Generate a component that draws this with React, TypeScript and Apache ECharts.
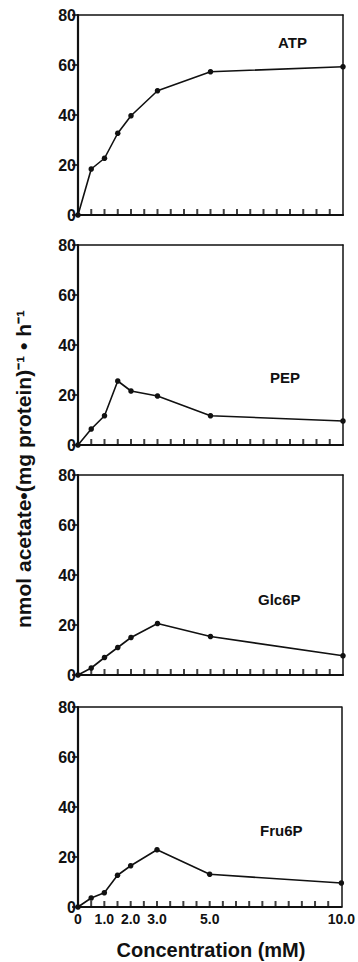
import React, { useEffect, useRef } from "react";
import * as echarts from "echarts";

const concentrations = [0, 0.5, 1, 1.5, 2, 3, 5, 10];
const atp = [0, 18.4, 22.7, 32.7, 39.7, 49.7, 57.3, 59.3];
const pep = [0, 6.4, 11.7, 25.6, 21.6, 19.6, 11.7, 9.6];
const glc6p = [0, 2.8, 7.0, 11.0, 15.0, 20.6, 15.4, 7.7];
const fru6p = [0, 3.6, 5.7, 12.7, 16.5, 22.9, 13.1, 9.6];
const panelNames = ["ATP", "PEP", "Glc6P", "Fru6P"];
const panelSeries = [atp, pep, glc6p, fru6p];
const xMinorTicks = [0.5, 1, 1.5, 2, 2.5, 3, 3.5, 4, 4.5, 5, 5.5, 6, 6.5, 7, 7.5, 8, 8.5, 9, 9.5];
const xTickLabels: Record<string, string> = { "0": "0", "1": "1.0", "2": "2.0", "3": "3.0", "5": "5.0", "10": "10.0" };
const yTitle = "nmol acetate\u2022(mg protein)\u207B\u00B9 \u2022 h\u207B\u00B9";
const xTitle = "Concentration (mM)";

const FONT = "'Liberation Sans', Arial, Helvetica, sans-serif";

export default function App() {
  const ref = useRef<HTMLDivElement>(null);
  useEffect(() => {
    if (!ref.current) return;
    const chart = echarts.init(ref.current, null, { renderer: "svg" });
    const tops = [15, 245, 475, 707];
    const H = 200;
    const labelPos = [
      { x: 278, y: 42 },
      { x: 270, y: 377 },
      { x: 258, y: 599 },
      { x: 260, y: 830 },
    ];
    const grids = tops.map((t) => ({
      left: 78,
      width: 265,
      top: t,
      height: H,
      show: false,
    }));
    const xAxes = tops.map((_, i) => ({
      type: "value",
      gridIndex: i,
      position: "bottom",
      min: 0,
      max: 10,
      interval: 0.5,
      splitLine: { show: false },
      axisLine: { show: true, onZero: false, lineStyle: { color: "#111", width: 2.2 } },
      axisTick: { show: false },
      axisLabel: {
        show: i === 3,
        margin: 5,
        color: "#111",
        fontFamily: FONT,
        fontWeight: "bold",
        fontSize: 14,
        formatter: (v: number) => xTickLabels[String(v)] ?? "",
      },
    }));
    const topAxes = tops.map((_, i) => ({
      type: "value",
      gridIndex: i,
      position: "top",
      min: 0,
      max: 10,
      axisLine: { show: true, onZero: false, lineStyle: { color: "#111", width: 1.5 } },
      axisTick: { show: false },
      axisLabel: { show: false },
      splitLine: { show: false },
    }));
    const yAxes = tops.map((_, i) => ({
      type: "value",
      gridIndex: i,
      min: 0,
      max: 80,
      interval: 20,
      splitLine: { show: false },
      axisLine: { show: true, onZero: false, lineStyle: { color: "#111", width: 2.2 } },
      axisTick: { show: true, inside: false, length: 6, lineStyle: { color: "#111", width: 1.6 } },
      axisLabel: {
        margin: 2,
        color: "#111",
        fontFamily: FONT,
        fontWeight: "bold",
        fontSize: 16,
      },
    }));
    const rightAxes = tops.map((_, i) => ({
      type: "value",
      gridIndex: i,
      position: "right",
      min: 0,
      max: 80,
      axisLine: { show: true, onZero: false, lineStyle: { color: "#111", width: 1.5 } },
      axisTick: { show: false },
      axisLabel: { show: false },
      splitLine: { show: false },
    }));
    const series: any[] = panelSeries.map((vals, i) => ({
      type: "line",
      xAxisIndex: i,
      yAxisIndex: i,
      data: concentrations.map((c, j) => [c, vals[j]]),
      symbol: "circle",
      symbolSize: 5.5,
      itemStyle: { color: "#111" },
      lineStyle: { color: "#111", width: 1.6 },
      z: 3,
    }));
    tops.forEach((_, i) => {
      series.push({
        type: "scatter",
        xAxisIndex: i,
        yAxisIndex: i,
        data: xMinorTicks.map((x) => [x, 0]),
        symbol: "rect",
        symbolSize: [2, 6],
        symbolOffset: [0, -3],
        itemStyle: { color: "#111" },
        clip: false,
        silent: true,
        z: 4,
      });
    });
    const graphics: any[] = panelNames.map((n, i) => ({
      type: "text",
      x: labelPos[i].x,
      y: labelPos[i].y,
      style: {
        text: n,
        fill: "#111",
        font: `bold 15px ${FONT}`,
        textVerticalAlign: "middle",
      },
    }));
    graphics.push({
      type: "text",
      x: 23,
      y: 469,
      rotation: Math.PI / 2,
      style: {
        text: yTitle,
        fill: "#111",
        font: `bold 21px ${FONT}`,
        textAlign: "center",
        textVerticalAlign: "middle",
      },
    });
    graphics.push({
      type: "text",
      x: 211,
      y: 950,
      style: {
        text: xTitle,
        fill: "#111",
        font: `bold 20px ${FONT}`,
        textAlign: "center",
        textVerticalAlign: "middle",
      },
    });
    chart.setOption({
      animation: false,
      backgroundColor: "#fff",
      grid: grids,
      xAxis: [...xAxes, ...topAxes],
      yAxis: [...yAxes, ...rightAxes],
      series,
      graphic: graphics,
    });
    return () => chart.dispose();
  }, []);
  return (
    <div
      ref={ref}
      style={{ position: "fixed", left: 0, top: 0, width: 358, height: 962 }}
    />
  );
}
